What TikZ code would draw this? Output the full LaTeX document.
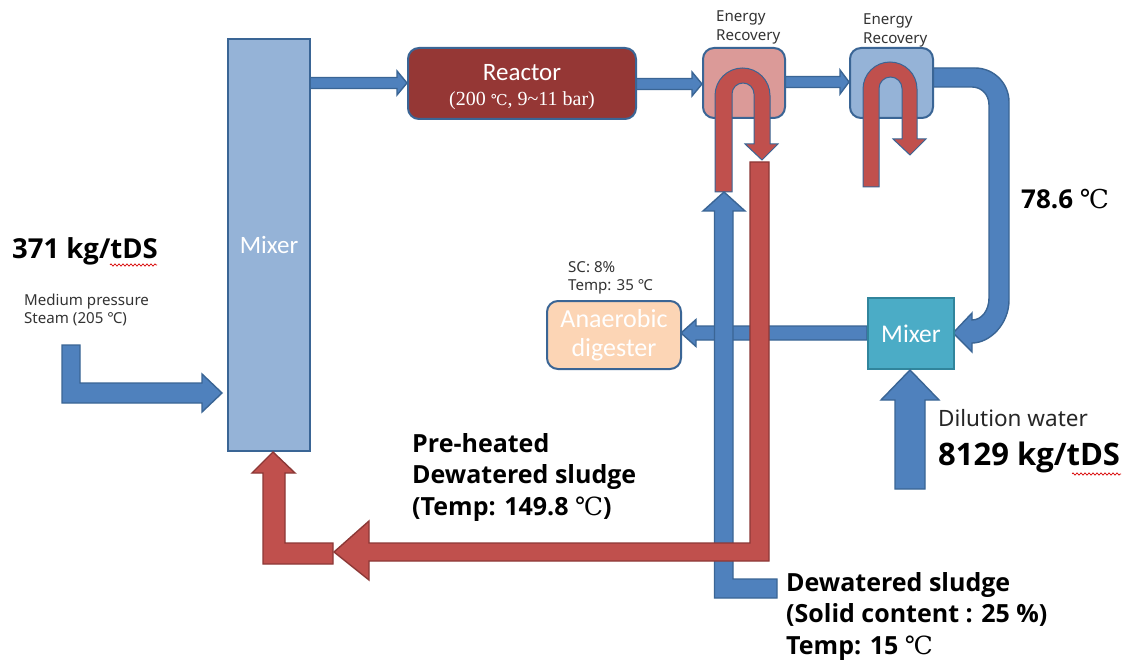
\documentclass[tikz,border=0pt]{standalone}
\usepackage{fontspec}
\setmainfont{Carlito}
\newfontfamily\smallfont{Noto Sans}
\newfontfamily\boldfam{Open Sans}
\newcommand{\boldlabel}{\boldfam\bfseries}
\newfontfamily\serifpart{Liberation Serif}
\newfontfamily\celsiusfont{DejaVu Serif}
\newcommand{\degc}{{\celsiusfont\mdseries ℃}}
\usetikzlibrary{calc,decorations.pathmorphing}
\definecolor{bluefill}{HTML}{4F81BD}
\definecolor{blueline}{HTML}{3A6595}
\definecolor{redfill}{HTML}{C0504D}
\definecolor{redline}{HTML}{8C3836}
\definecolor{lightblue}{HTML}{95B3D7}
\definecolor{lightred}{HTML}{DB9A98}
\definecolor{darkred}{HTML}{953735}
\definecolor{tealfill}{HTML}{4BACC6}
\definecolor{tealline}{HTML}{31859C}
\definecolor{peach}{HTML}{FCD5B5}
\tikzset{
  bluebar/.style={draw=blueline,fill=bluefill,line width=1.4pt,line join=miter},
  redbar/.style={draw=redline,fill=redfill,line width=1.4pt,line join=miter},
  redflow/.style={draw=blueline,fill=redfill,line width=1pt},
  box/.style={draw=blueline,line width=2pt,inner sep=0pt,align=center,text=white,anchor=north west},
  roundbox/.style={box,rounded corners=11pt},
  small/.style={font=\smallfont\fontsize{15.1}{18.3}\selectfont,text=black!80,align=left,anchor=north west,inner sep=0pt},
  big/.style={font=\boldlabel\fontsize{25}{31.5}\selectfont,text=black,align=left,anchor=north west,inner sep=0pt},
  squiggle/.style={draw=red!85!black,line width=0.7pt,decorate,decoration={zigzag,amplitude=1.1pt,segment length=4pt}}
}
% straight block arrow between two named coordinates, running along x
\newcommand{\blockarrow}[6]{%
  \path let \p1=(#1), \p2=(#2) in
    \pgfextra{\pgfmathsetmacro{\sgn}{(\x2>\x1)?1:-1}}
    [#6] (\x1,\y1+#3) -- (\x2-\sgn*#5,\y2+#3) -- (\x2-\sgn*#5,\y2+#4) -- (\x2,\y2)
    -- (\x2-\sgn*#5,\y2-#4) -- (\x2-\sgn*#5,\y2-#3) -- (\x1,\y1-#3) -- cycle;}
\begin{document}
\begin{tikzpicture}[x=1pt,y=-1pt]
\useasboundingbox (0,0) rectangle (1129,660);
\fill[white] (0,0) rectangle (1129,660);

% anchor points of the straight connectors
\coordinate (mixOut) at (309,83);
\coordinate (reactIn) at (407,83);
\coordinate (reactOut) at (635,84);
\coordinate (er1In) at (702,84);
\coordinate (er1Out) at (784,82);
\coordinate (er2In) at (849,82);
\coordinate (mix2Out) at (867,333);
\coordinate (digIn) at (681,333);

% straight connectors
\blockarrow{mixOut}{reactIn}{5.5pt}{12pt}{10pt}{bluebar}
\blockarrow{reactOut}{er1In}{5.5pt}{12pt}{10pt}{bluebar}
\blockarrow{er1Out}{er2In}{5.5pt}{12pt}{9pt}{bluebar}
\blockarrow{mix2Out}{digIn}{7pt}{13.5pt}{15pt}{bluebar}

% curved flow from second recovery unit to the small mixer
\draw[bluebar] (932,68) -- (975,68) .. controls (993.8,68) and (1009,83.2) .. (1009,102)
  -- (1009,300) .. controls (1009,324) and (990,343) .. (972,343)
  -- (972,352) -- (953,333) -- (972,313) -- (972,320)
  .. controls (982,320) and (989,310) .. (989,298)
  -- (989,105) .. controls (989,94) and (981,87) .. (972,87) -- (932,87) -- cycle;

% boxes
\node[box,minimum width=82pt,minimum height=412pt,fill=lightblue,font=\fontsize{25}{29}\selectfont] (mixerA) at (227,38) {Mixer};
\node[roundbox,minimum width=228pt,minimum height=71pt,fill=darkred,font=\fontsize{25}{25}\selectfont] (reactor) at (407,47)
  {\rule{0pt}{24pt}Reactor\\{\serifpart\fontsize{20}{20}\selectfont (200 {\celsiusfont\fontsize{15}{20}\selectfont ℃}, 9\textasciitilde11 bar)}};
\node[roundbox,minimum width=82pt,minimum height=70pt,fill=lightred] (er1) at (702,47) {};
\node[roundbox,minimum width=83pt,minimum height=70pt,fill=lightblue] (er2) at (849,47) {};
\node[box,draw=tealline,minimum width=86pt,minimum height=71pt,fill=tealfill,font=\fontsize{25.5}{30}\selectfont] (mixerB) at (867,297) {Mixer};
\node[roundbox,minimum width=134pt,minimum height=68pt,fill=peach,font=\fontsize{26}{29}\selectfont] (digester) at (546,300) {Anaerobic\\digester};

% U tubes in the recovery units
\draw[redflow] (715,192) -- (715,95.5) .. controls (715,80.3) and (727.3,68) .. (742.5,68)
  .. controls (757.7,68) and (770,80.3) .. (770,95.5) -- (770,144) -- (778,144) -- (762,160)
  -- (745,144) -- (754,144) -- (754,94) .. controls (754,87.9) and (749.1,83) .. (743,83)
  .. controls (736.9,83) and (732,87.9) .. (732,94) -- (732,192) -- cycle;
\draw[redflow] (863,187) -- (863,89) .. controls (863,74.1) and (875.1,62) .. (890,62)
  .. controls (904.9,62) and (917,74.1) .. (917,89) -- (917,139) -- (926,139) -- (910,155)
  -- (893,139) -- (902,139) -- (902,88.5) .. controls (902,82.15) and (896.85,77) .. (890.5,77)
  .. controls (884.15,77) and (879,82.15) .. (879,88.5) -- (879,187) -- cycle;

% sludge feed, rising to the first recovery unit
\draw[bluebar] (777,579) -- (733,579) -- (733,211) -- (745,211) -- (724,192) -- (703,211)
  -- (714.5,211) -- (714.5,598) -- (777,598) -- cycle;

% pre-heated sludge return
\draw[redbar] (750,162) -- (769,162) -- (769,561) -- (369,561) -- (369,580) -- (334,552)
  -- (369,521) -- (369,543) -- (750,543) -- cycle;
\draw[redbar] (333,543) -- (285,543) -- (285,473) -- (295,473) -- (273,452) -- (252,473)
  -- (263,473) -- (263,564) -- (333,564) -- cycle;

% steam inlet
\draw[bluebar] (62,345) -- (80,345) -- (80,383) -- (202,383) -- (202,374) -- (222,393)
  -- (202,412) -- (202,403) -- (62,403) -- cycle;

% dilution water inlet
\draw[bluebar] (895,489) -- (895,400) -- (881,400) -- (910,370) -- (939,400) -- (925,400)
  -- (925,489) -- cycle;

% labels
\node[small] (lblE1) at (716,11) {Energy\\Recovery};
\node[small] (lblE2) at (863,14) {Energy\\Recovery};
\node[small] (lblSC) at (568,261) {SC: 8\%\\Temp: 35 ℃};
\node[small] (lblSteam) at (24,294) {Medium pressure\\Steam (205 ℃)};
\node[big,font=\boldlabel\fontsize{27.5}{32}\selectfont] (lbl371) at (12,237) {371 kg/tDS};
\draw[squiggle] (110,265) -- (157,265);
\node[big,font=\boldlabel\fontsize{26}{32}\selectfont] (lbl786) at (1021,189) {78.6 \degc};
\node[big] (lblPre) at (412,433) {Pre-heated\\Dewatered sludge\\(Temp: 149.8 \degc)};
\node[big] (lblDew) at (786,572) {Dewatered sludge\\(Solid content : 25 \%)\\Temp: 15 \degc};
\node[anchor=north west,inner sep=0pt,font=\smallfont\fontsize{22.5}{26}\selectfont,text=black!85] (lblDil) at (938,409) {Dilution water};
\node[big,font=\boldlabel\fontsize{31}{36}\selectfont] (lbl8129) at (938,442) {8129 kg/tDS};
\draw[squiggle] (1072,474) -- (1121,474);
\end{tikzpicture}
\end{document}
